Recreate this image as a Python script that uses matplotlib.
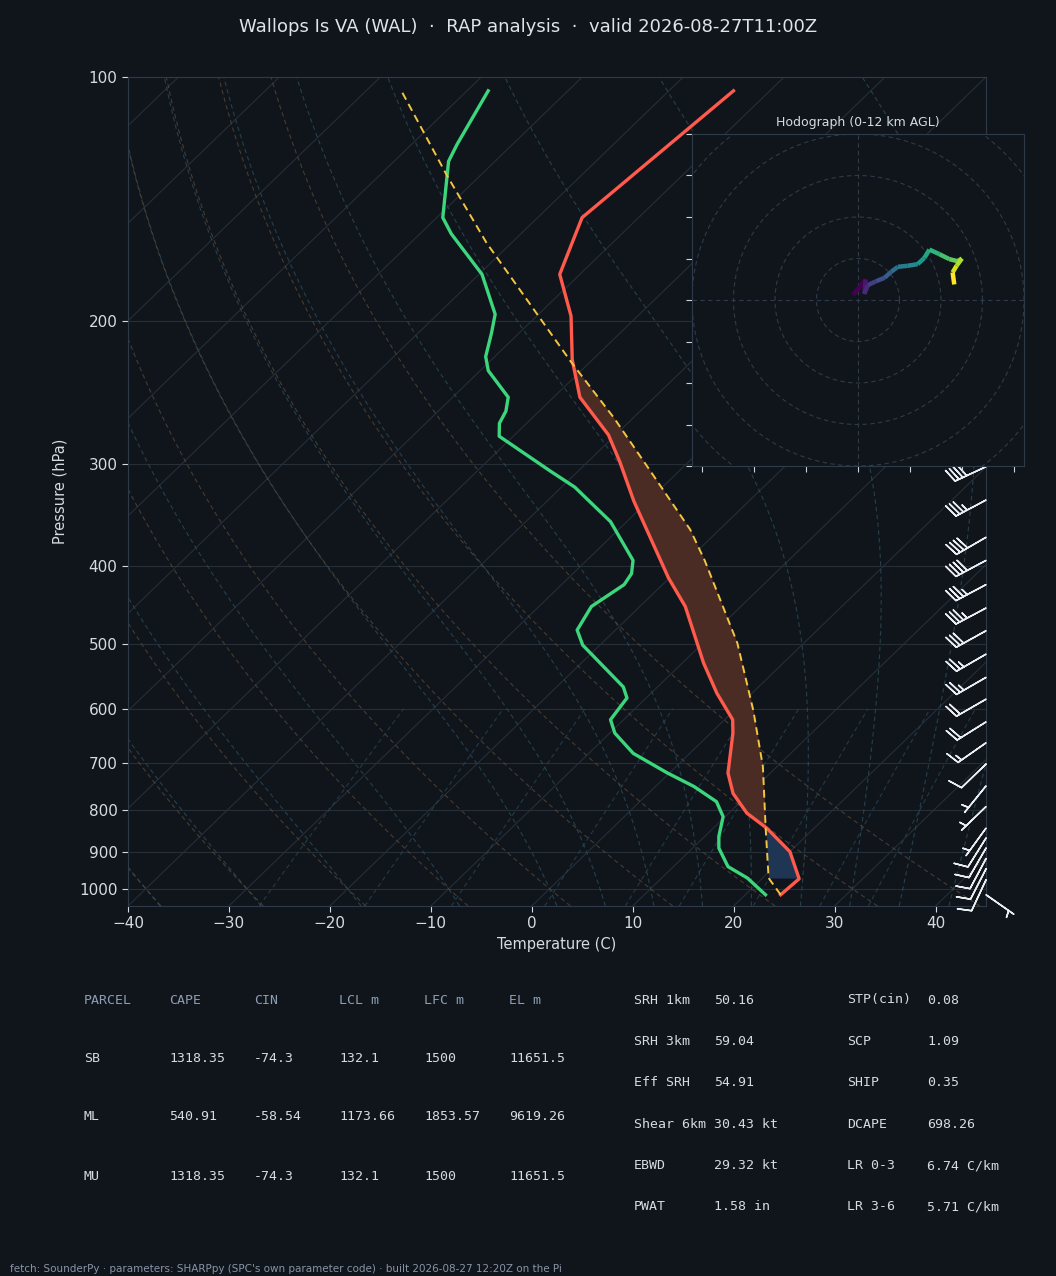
import numpy as np
import matplotlib
matplotlib.use('Agg')
import matplotlib.pyplot as plt
from matplotlib import transforms
from matplotlib.collections import LineCollection
from matplotlib.ticker import MultipleLocator, NullLocator, FixedLocator, FixedFormatter

# ---- sounding values ----
t_pres = [1017, 972, 900, 842, 807, 763, 720, 643, 619, 574, 527, 449, 414, 333,
          298, 276, 248, 223, 197, 175, 149, 104]
t_degc = [23.5, 23.7, 20.0, 15.3, 11.8, 8.4, 5.8, 2.2, 0.8, -3.5, -7.9, -15.5, -20.1, -31.4,
          -36.8, -40.7, -47.4, -52.0, -56.6, -62.0, -65.6, -63.6]

td_pres = [1017, 970, 939, 891, 862, 815, 781, 748, 720, 681, 643, 619, 582, 564, 501,
           480, 449, 422, 409, 394, 353, 320, 306, 277, 267, 258, 248, 230, 221, 207,
           196, 175, 156, 149, 127, 121, 104]
td_degc = [22.0, 18.5, 15.4, 12.6, 11.4, 9.8, 7.6, 3.8, -0.2, -5.6, -9.5, -11.3, -11.9, -13.4,
           -21.7, -23.8, -24.8, -23.8, -24.2, -25.4, -31.6, -38.7, -42.7, -51.4, -52.7,
           -53.3, -54.5, -59.2, -60.9, -62.7, -64.3, -69.7, -76.9, -79.4, -84.6, -85.5, -87.9]

parcel_pres = [1017, 970, 840, 707, 603, 498, 394, 361, 305, 263, 224, 206, 160, 132, 104]
parcel_degc = [23.5, 20.6, 15.1, 8.6, 1.9, -6.6, -18.3, -22.9, -33.0, -41.9, -52.0, -57.1,
               -72.5, -83.4, -96.5]

barb_pres = [1017, 975, 945, 918, 891, 866, 842, 792, 747, 702, 661, 623, 584, 549, 514,
             481, 451, 422, 394, 369, 332, 302]
barb_kt = [5, 10, 10, 10, 10, 10, 5, 5, 5, 10, 15, 20, 20, 25, 25,
           30, 35, 35, 40, 40, 35, 40]
barb_dir = [125, 205, 207, 208, 210, 212, 216, 226, 219, 226, 235, 238, 240, 240, 240,
            241, 242, 242, 242, 240, 242, 245]

hodo_u = [-2.4, 3.7, 3.0, 4.8, 8.8, 12.8, 16.0, 19.2, 24.0, 28.8, 32.0, 34.4, 39.2, 44.0,
          48.0, 50.1, 47.5, 45.6, 46.4]
hodo_v = [2.4, 9.9, 2.9, 7.2, 9.1, 10.7, 13.6, 16.0, 16.5, 17.3, 20.3, 24.3, 22.1, 19.7,
          18.7, 20.0, 16.5, 13.3, 7.5]

title = 'Wallops Is VA (WAL)  \u00b7  RAP analysis  \u00b7  valid 2026-08-27T11:00Z'

parcel_head = ['PARCEL', 'CAPE', 'CIN', 'LCL m', 'LFC m', 'EL m']
parcel_rows = [['SB', '1318.35', '-74.3', '132.1', '1500', '11651.5'],
               ['ML', '540.91', '-58.54', '1173.66', '1853.57', '9619.26'],
               ['MU', '1318.35', '-74.3', '132.1', '1500', '11651.5']]
index_left = [('SRH 1km', '50.16'), ('SRH 3km', '59.04'), ('Eff SRH', '54.91'),
              ('Shear 6km', '30.43 kt'), ('EBWD', '29.32 kt'), ('PWAT', '1.58 in')]
index_right = [('STP(cin)', '0.08'), ('SCP', '1.09'), ('SHIP', '0.35'),
               ('DCAPE', '698.26'), ('LR 0-3', '6.74 C/km'), ('LR 3-6', '5.71 C/km')]

footer = ("fetch: SounderPy \u00b7 parameters: SHARPpy (SPC's own parameter code) "
          "\u00b7 built 2026-08-27 12:20Z on the Pi")

# ---- colours ----
BG = '#10151c'
GRID = '#262e38'
SPINE = '#2f3a48'
TXT = '#d6dbe2'
RED = '#ff5a4c'
GREEN = '#3cd67c'
YELLOW = '#f4c542'

W, H = 1056, 1276
fig = plt.figure(figsize=(W / 100, H / 100), dpi=100, facecolor=BG)


def fx(px):
    return px / W


def fy(py):
    return 1 - py / H


ax = fig.add_axes([fx(128), fy(906), fx(986) - fx(128), fy(77) - fy(906)], facecolor=BG)
ax.set_yscale('log')
ax.set_xlim(-40, 45)
ax.set_ylim(1050, 100)
ax.set_autoscale_on(False)

# skew-T transform: isotherms at 45 degrees
skew = ax.transScale + ax.transLimits + transforms.Affine2D().skew_deg(45, 0) + ax.transAxes

# ---- background lines ----
Rd, Cp, Lv, eps = 287.04, 1005.7, 2.501e6, 0.622


def sat_mr(p, tk):
    tc = tk - 273.15
    es = 6.112 * np.exp(17.67 * tc / (tc + 243.5))
    return eps * es / (p - es)


def dtdp(p, tk):
    rs = sat_mr(p, tk)
    return (Rd * tk + Lv * rs) / (p * (Cp + Lv * Lv * rs * eps / (Rd * tk * tk)))


def moist(t0k, plev):
    out = [t0k]
    t = t0k
    for p0, p1 in zip(plev[:-1], plev[1:]):
        h = p1 - p0
        k1 = dtdp(p0, t)
        k2 = dtdp(p0 + h / 2, t + h / 2 * k1)
        k3 = dtdp(p0 + h / 2, t + h / 2 * k2)
        k4 = dtdp(p1, t + h * k3)
        t = t + h / 6 * (k1 + 2 * k2 + 2 * k3 + k4)
        out.append(t)
    return np.array(out)


for t_iso in range(-120, 50, 10):
    ax.plot([t_iso, t_iso], [1050, 100], transform=skew, color=GRID, lw=0.8, zorder=1)

p_line = np.linspace(1050, 100, 120)
for t0 in range(-40, 46, 10):
    tdry = (t0 + 273.15) * (p_line / 1000.0) ** (Rd / Cp) - 273.15
    ax.plot(tdry, p_line, transform=skew, color='#5e4c36', lw=0.8, ls=(0, (4, 3)),
            alpha=0.7, zorder=1)

p_up = np.linspace(1000, 100, 300)
p_dn = np.linspace(1000, 1050, 20)
for t0 in list(range(-40, 0, 10)) + list(range(0, 46, 5)):
    t_up = moist(t0 + 273.15, p_up) - 273.15
    t_dn = moist(t0 + 273.15, p_dn) - 273.15
    pp = np.concatenate([p_dn[::-1], p_up[1:]])
    tt = np.concatenate([t_dn[::-1], t_up[1:]])
    ax.plot(tt, pp, transform=skew, color='#2e5260', lw=0.8, ls=(0, (4, 3)),
            alpha=0.7, zorder=1)

p_mix = np.linspace(1050, 600, 30)
for w in [0.0004, 0.001, 0.002, 0.004, 0.007, 0.01, 0.016, 0.024, 0.032]:
    e = p_mix * w / (eps + w)
    lg = np.log(e / 6.112)
    tdm = 243.5 * lg / (17.67 - lg)
    ax.plot(tdm, p_mix, transform=skew, color='#2a4a58', lw=0.8, ls=(0, (4, 3)),
            alpha=0.7, zorder=1)

# ---- CAPE / CIN shading ----
grid_p = np.unique(np.concatenate([t_pres, parcel_pres])).astype(float)
lg = np.log(grid_p)
env_on = np.interp(lg, np.log(t_pres[::-1]), t_degc[::-1])
par_on = np.interp(lg, np.log(parcel_pres[::-1]), parcel_degc[::-1])
ax.fill_betweenx(grid_p, env_on, par_on, where=par_on > env_on, interpolate=True,
                 transform=skew, color='#4b2c24', lw=0, zorder=2)
sub = (grid_p <= parcel_pres[1]) & (grid_p >= 700)
ax.fill_betweenx(grid_p[sub], env_on[sub], par_on[sub], where=par_on[sub] < env_on[sub],
                 interpolate=True, transform=skew, color='#1f3554', lw=0, zorder=2)

# ---- profiles ----
ax.plot(t_degc, t_pres, transform=skew, color=RED, lw=2.4, zorder=4)
ax.plot(td_degc, td_pres, transform=skew, color=GREEN, lw=2.4, zorder=4)
ax.plot(parcel_degc, parcel_pres, transform=skew, color=YELLOW, lw=1.4,
        ls=(0, (4, 2.5)), zorder=5)

# ---- wind barbs on the right edge ----
spd = np.array(barb_kt, float)
wd = np.radians(barb_dir)
bu = -spd * np.sin(wd)
bv = -spd * np.cos(wd)
ax.barbs(np.ones(len(barb_pres)), barb_pres, bu, bv, transform=ax.get_yaxis_transform(),
         clip_on=False, length=7, color='#e9edf2', linewidth=1.1, zorder=6)

# ---- axes styling ----
ax.yaxis.set_major_locator(FixedLocator([100, 200, 300, 400, 500, 600, 700, 800, 900, 1000]))
ax.yaxis.set_major_formatter(FixedFormatter(['100', '200', '300', '400', '500', '600',
                                              '700', '800', '900', '1000']))
ax.yaxis.set_minor_locator(NullLocator())
ax.set_xticks(range(-40, 41, 10))
ax.yaxis.grid(True, color=GRID, lw=0.8)
ax.set_axisbelow(True)
ax.tick_params(colors=TXT, labelsize=11, length=4, width=0.8)
for s in ax.spines.values():
    s.set_color(SPINE)
ax.set_xlabel('Temperature (C)', color=TXT, fontsize=10.5, labelpad=4)
ax.set_ylabel('Pressure (hPa)', color=TXT, fontsize=10.5, labelpad=8)

# ---- hodograph inset ----
hx = fig.add_axes([fx(692), fy(466), fx(1024) - fx(692), fy(134) - fy(466)], facecolor=BG)
hx.set_xlim(-80, 80)
hx.set_ylim(-80, 80)
ring_t = np.linspace(0, 2 * np.pi, 200)
for r in range(20, 101, 20):
    hx.plot(r * np.cos(ring_t), r * np.sin(ring_t), color=SPINE, lw=0.8, ls=(0, (4, 3)))
hx.axhline(0, color=SPINE, lw=0.8, ls=(0, (4, 3)))
hx.axvline(0, color=SPINE, lw=0.8, ls=(0, (4, 3)))
pts = np.column_stack([hodo_u, hodo_v])
segs = np.stack([pts[:-1], pts[1:]], axis=1)
lc = LineCollection(segs, cmap='viridis', linewidths=3.2, zorder=3)
lc.set_array(np.arange(len(segs)))
hx.add_collection(lc)
hx.xaxis.set_major_locator(MultipleLocator(25))
hx.yaxis.set_major_locator(MultipleLocator(20))
hx.tick_params(colors='#cfd4da', labelbottom=False, labelleft=False, length=4, width=0.8)
for s in hx.spines.values():
    s.set_color(SPINE)
hx.set_title('Hodograph (0-12 km AGL)', color=TXT, fontsize=9, pad=6)

# ---- titles and tables ----
fig.text(0.5, fy(27), title, ha='center', va='center', fontsize=13, color='#dfe3ea')

mono = 'DejaVu Sans Mono'
head_x = [84, 169, 254, 339, 424, 509]
for x, h in zip(head_x, parcel_head):
    fig.text(fx(x), fy(1000), h, ha='left', va='center', family=mono, fontsize=9.5,
             color='#8d9db3')
for row, y in zip(parcel_rows, [1058, 1117, 1176]):
    for x, val in zip(head_x, row):
        fig.text(fx(x), fy(y), val, ha='left', va='center', family=mono, fontsize=9.5,
                 color=TXT)

for i, ((l1, v1), (l2, v2)) in enumerate(zip(index_left, index_right)):
    y = 1000 + i * 41.4
    fig.text(fx(634), fy(y), l1, ha='left', va='center', family=mono, fontsize=9.5, color=TXT)
    fig.text(fx(714), fy(y), v1, ha='left', va='center', family=mono, fontsize=9.5, color=TXT)
    fig.text(fx(847), fy(y), l2, ha='left', va='center', family=mono, fontsize=9.5, color=TXT)
    fig.text(fx(927), fy(y), v2, ha='left', va='center', family=mono, fontsize=9.5, color=TXT)

fig.text(fx(10), fy(1269), footer, ha='left', va='center', fontsize=7.5, color='#8794a6')

fig.savefig('out.png', dpi=100, facecolor=BG)
